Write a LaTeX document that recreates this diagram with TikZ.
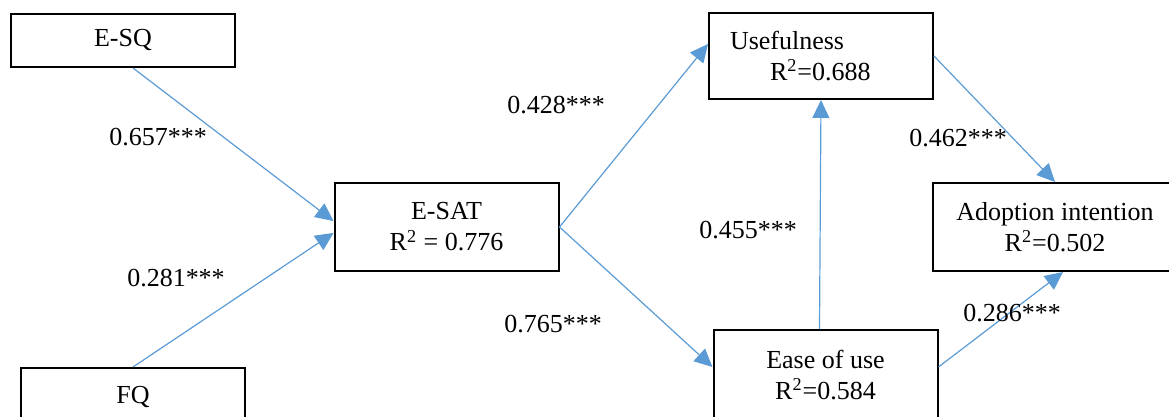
\documentclass[tikz,border=0pt]{standalone}
\usepackage{fontspec}
\setmainfont{Liberation Serif}
\usetikzlibrary{arrows.meta}

\definecolor{linkblue}{RGB}{91,155,213}

\begin{document}
\begin{tikzpicture}[x=0.5pt, y=-0.5pt,
  construct/.style={draw=black, line width=1pt, minimum width=112pt, inner sep=2pt,
    align=center, font=\fontsize{13}{15.5}\selectfont},
  link/.style={draw=linkblue, line width=0.6pt, -{Triangle[length=9pt,width=8.5pt]}, linkblue},
  coef/.style={inner sep=0pt, font=\fontsize{13}{15.5}\selectfont}]

\useasboundingbox (0,0) rectangle (1169,417);
\clip (0,0) rectangle (1169,417);

% Constructs
\node[construct, minimum height=26.5pt] (esq) at (123,40.5) {E-SQ};
\node[construct, minimum height=29pt] (fq) at (133,397) {FQ};
\node[construct, minimum height=44pt] (esat) at (446.5,227) {E-SAT\\R\textsuperscript{2} = 0.776};
\node[construct, minimum height=43pt, align=left, inner xsep=10.5pt, text width=91pt] (use) at (821,56)
  {Usefulness\\\hspace*{20pt}R\textsuperscript{2}=0.688};
\node[construct, minimum height=45pt] (ease) at (825.5,375) {Ease of use\\R\textsuperscript{2}=0.584};
\node[construct, minimum height=44pt, minimum width=122pt] (adopt) at (1055,227)
  {Adoption intention\\R\textsuperscript{2}=0.502};

% Paths
\draw[link] ([xshift=5pt]esq.south) -- (esat.177);
\draw[link] (fq.north) -- (esat.183);
\draw[link] (esat.east) -- ([yshift=6pt]use.west);
\draw[link] (esat.east) -- ([yshift=4pt]ease.west);
\draw[link] ([xshift=-3pt]ease.north) -- (use.south);
\draw[link] (use.east) -- (adopt.north);
\draw[link] ([yshift=4pt]ease.east) -- ([xshift=4pt]adopt.south);

% Path coefficients
\node[coef] (b1) at (158,137) {0.657***};
\node[coef] (b2) at (176,278) {0.281***};
\node[coef] (b3) at (556,105) {0.428***};
\node[coef] (b4) at (553,324) {0.765***};
\node[coef] (b5) at (748,230) {0.455***};
\node[coef] (b6) at (958,138) {0.462***};
\node[coef] (b7) at (1012,313) {0.286***};

\end{tikzpicture}
\end{document}
